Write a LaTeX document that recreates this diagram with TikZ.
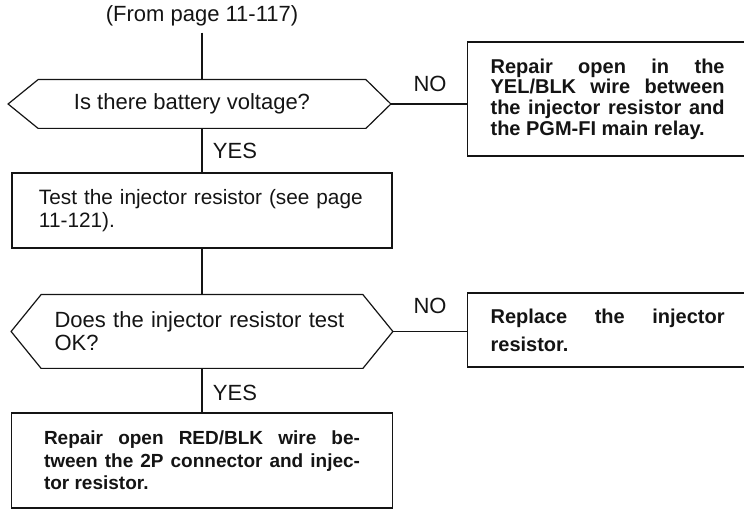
\documentclass[tikz,border=0pt]{standalone}
\usepackage{fontspec}
\setmainfont{Liberation Sans}
\usetikzlibrary{positioning,calc}

\definecolor{inkblack}{RGB}{20,20,20}

\tikzset{
  flowline/.style={draw=inkblack, line width=0.6pt},
  askbox/.style={inner sep=0pt, text=inkblack, font=\fontsize{11}{11.5}\selectfont},
  testbox/.style={draw=inkblack, line width=0.6pt, text=inkblack, align=left, font=\fontsize{10.4}{11.5}\selectfont},
  fixbox/.style={draw=inkblack, line width=0.6pt, text=inkblack, align=justify, font=\bfseries\fontsize{10}{10.3}\selectfont},
  lbl/.style={inner sep=3pt, text=inkblack, font=\fontsize{11}{12}\selectfont},
}

\begin{document}
\begin{tikzpicture}[x=0.5pt, y=-0.5pt]
\useasboundingbox (0,0) rectangle (744,512);
\clip (0,0) rectangle (744,512);

\node[lbl] (from) at (202,16) {(From page 11-117)};

% battery voltage check
\node[askbox, minimum width=163.5pt, minimum height=24pt] (volt) at (202,104) {Is there battery voltage?\hspace*{10pt}};
\draw[flowline] (volt.north west) -- (volt.north east) -- ([xshift=12.5pt]volt.east) coordinate (voltR)
  -- (volt.south east) -- (volt.south west) -- ([xshift=-15pt]volt.west) -- cycle;
\node[fixbox, anchor=west, text width=117pt, inner xsep=11.5pt, minimum height=57pt] (yelblk) at (467,99)
  {Repair open in the\linebreak YEL/BLK wire between\linebreak the injector resistor and\linebreak the PGM-FI main relay.};
\node[lbl] (no1) at (430,84) {NO};
\node[lbl] (yes1) at (235,151) {YES};

\node[testbox, minimum width=190pt, minimum height=37.5pt, text width=163pt, inner xsep=13.5pt] (test) at (202,210.5)
  {Test the injector resistor (see page\\11-121).};

% resistor check
\node[askbox, minimum width=160.5pt, minimum height=36.5pt, text width=147.5pt, inner xsep=6.5pt, align=left] (resok) at (202,331.5)
  {Does the injector resistor test\\OK?};
\draw[flowline] (resok.north west) -- (resok.north east) -- ([xshift=15pt]resok.east) coordinate (resokR)
  -- (resok.south east) -- (resok.south west) -- ([xshift=-15pt]resok.west) -- cycle;
\node[fixbox, anchor=west, text width=117pt, inner xsep=11.5pt, minimum height=37pt, font=\bfseries\fontsize{10}{14}\selectfont] (replace) at (467,330)
  {Replace the injector\linebreak resistor.};
\node[lbl] (no2) at (430,306) {NO};
\node[lbl] (yes2) at (235,393) {YES};

\node[fixbox, text width=158pt, inner xsep=16.25pt, minimum height=47.5pt, font=\bfseries\fontsize{9.5}{11.25}\selectfont] (redblk) at (202,460.5)
  {Repair open RED/BLK wire be-\linebreak tween the 2P connector and injec-\linebreak tor resistor.};

\draw[flowline] (from.south) -- (volt.north);
\draw[flowline] (volt.south) -- (test.north);
\draw[flowline] (test.south) -- (resok.north);
\draw[flowline] (resok.south) -- (redblk.north);
\draw[flowline] (voltR) -- (voltR -| yelblk.west);
\draw[flowline] (resokR) -- (resokR -| replace.west);
\end{tikzpicture}
\end{document}
